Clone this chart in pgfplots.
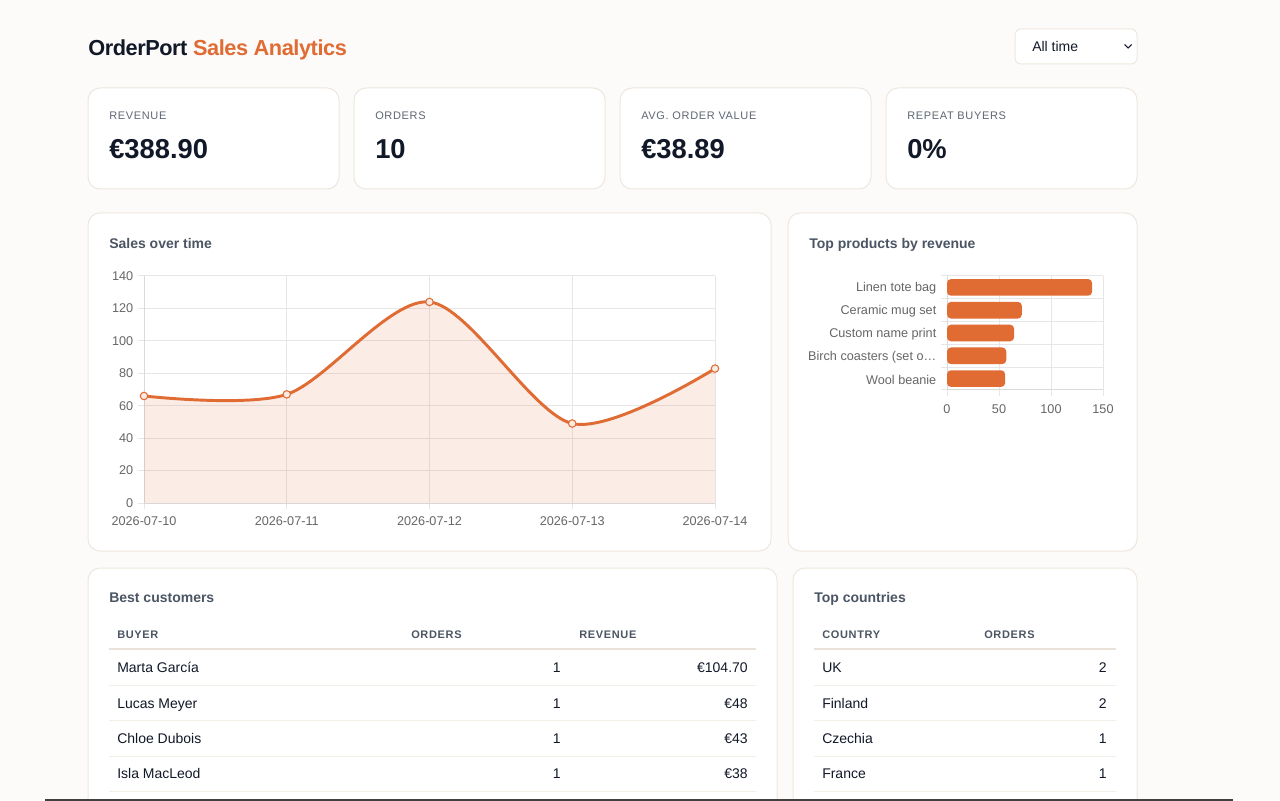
\documentclass[border=0pt]{standalone}
\usepackage{fontspec}
\setmainfont{Liberation Sans}
\newfontfamily\spaced[LetterSpace=6]{Liberation Sans}
\newfontfamily\tight[LetterSpace=-2]{Liberation Sans}
\usepackage{pgfplots}
\usepackage{pgfplotstable}
\pgfplotsset{compat=1.18}
\definecolor{bg}{HTML}{FCFBF9}
\definecolor{cardborder}{HTML}{EEE7DE}
\definecolor{ink}{HTML}{111827}
\definecolor{muted}{HTML}{4B5563}
\definecolor{lab}{HTML}{5F6673}
\definecolor{accent}{HTML}{E06B33}
\definecolor{accentfill}{HTML}{F9EBE3}
\definecolor{gridc}{HTML}{E6E6E6}
\definecolor{axisc}{HTML}{DADADA}
\definecolor{tickc}{HTML}{666666}
\definecolor{rowline}{HTML}{F3EEE8}
\definecolor{headline}{HTML}{EAE2D8}

\pgfplotstableread{
x y
0 66
1 67
2 124
3 49
4 82.9
}\salesdata

\pgfplotstableread{
y x
4 139.5
3 72
2 64.5
1 57
0 55.9
}\productdata

\begin{document}
\begin{tikzpicture}[x=0.75pt,y=0.75pt]
\path[use as bounding box] (0,0) rectangle (1280,800);
\begin{scope}
\clip (0,0) rectangle (1280,800);
\fill[bg] (0,0) rectangle (1280,800);

% Title
\node[anchor=base west, inner sep=0pt, font=\tight\fontsize{16.3}{18}\selectfont\bfseries] at (88,744) {\textcolor{ink}{OrderPort} \textcolor{accent}{Sales Analytics}};

% Dropdown
\draw[cardborder, fill=white, line width=0.75pt, rounded corners=4.5pt] (1015,736) rectangle (1137,771);
\node[anchor=base west, inner sep=0pt, font=\fontsize{10.5}{12}\selectfont, text=ink] at (1032,748.5) {All time};
\draw[ink, line width=0.8pt] (1124.5,755.5) -- (1128,752) -- (1131.5,755.5);

% KPI cards
\foreach \x/\lab/\val in {88/REVENUE/€388.90, 354/ORDERS/10, 620/AVG. ORDER VALUE/€38.89, 886/REPEAT BUYERS/0\%}{
  \draw[cardborder, fill=white, line width=0.75pt, rounded corners=9pt] (\x,611) rectangle ++(251,101);
  \node[anchor=base west, inner sep=0pt, font=\spaced\fontsize{8.25}{10}\selectfont, text=lab] at (\x+21,680.5) {\lab};
  \node[anchor=base west, inner sep=0pt, font=\fontsize{20.5}{22}\selectfont\bfseries, text=ink] at (\x+21,641) {\val};
}

% Chart cards
\draw[cardborder, fill=white, line width=0.75pt, rounded corners=9pt] (88,249) rectangle (771,587);
\draw[cardborder, fill=white, line width=0.75pt, rounded corners=9pt] (788,249) rectangle (1137,587);
\node[anchor=base west, inner sep=0pt, font=\fontsize{10.5}{12}\selectfont\bfseries, text=muted] at (109,551.5) {Sales over time};
\node[anchor=base west, inner sep=0pt, font=\fontsize{10.5}{12}\selectfont\bfseries, text=muted] at (809,551.5) {Top products by revenue};

% Bottom cards
\draw[cardborder, fill=white, line width=0.75pt, rounded corners=9pt] (88,-30) rectangle (777,232);
\draw[cardborder, fill=white, line width=0.75pt, rounded corners=9pt] (793,-30) rectangle (1137,232);
\node[anchor=base west, inner sep=0pt, font=\fontsize{10.5}{12}\selectfont\bfseries, text=muted] at (109,198) {Best customers};
\node[anchor=base west, inner sep=0pt, font=\fontsize{10.5}{12}\selectfont\bfseries, text=muted] at (814,198) {Top countries};

% Table headers
\begin{scope}[every node/.style={anchor=base west, inner sep=0pt, font=\spaced\fontsize{8.25}{10}\selectfont\bfseries, text=muted}]
\node at (117,162) {BUYER};
\node at (411,162) {ORDERS};
\node at (579,162) {REVENUE};
\node at (822,162) {COUNTRY};
\node at (984,162) {ORDERS};
\end{scope}
\draw[headline, line width=1pt] (109,151) -- (756,151);
\draw[headline, line width=1pt] (814,151) -- (1116,151);
\foreach \yy in {115,80,44,9}{
  \draw[rowline, line width=0.75pt] (109,\yy) -- (756,\yy);
  \draw[rowline, line width=0.75pt] (814,\yy) -- (1116,\yy);
}
\begin{scope}[every node/.style={inner sep=0pt, font=\fontsize{10.5}{12}\selectfont, text=ink}]
\foreach \yy/\name/\rev/\cty/\num in {128/Marta García/€104.70/UK/2, 92/Lucas Meyer/€48/Finland/2, 57/Chloe Dubois/€43/Czechia/1, 22/Isla MacLeod/€38/France/1}{
  \node[anchor=base west] at (117,\yy) {\name};
  \node[anchor=base east] at (561,\yy) {1};
  \node[anchor=base east] at (748,\yy) {\rev};
  \node[anchor=base west] at (822,\yy) {\cty};
  \node[anchor=base east] at (1107,\yy) {\num};
}
\end{scope}

% Line chart
\begin{axis}[
  at={(108pt,222.75pt)}, anchor=south west, scale only axis,
  width=428.25pt, height=170.25pt,
  xmin=0, xmax=4, ymin=0, ymax=140,
  xtick={0,1,2,3,4},
  xticklabels={2026-07-10,2026-07-11,2026-07-12,2026-07-13,2026-07-14},
  ytick={0,20,...,140},
  grid=major, grid style={gridc, line width=0.75pt},
  axis lines*=left, axis line style={axisc, line width=0.75pt},
  tick style={gridc, line width=0.75pt}, tick align=outside, major tick length=4.5pt,
  ticklabel style={font=\fontsize{9.5}{10}\selectfont, text=tickc},
  xticklabel style={yshift=-2.5pt},
  /pgf/number format/assume math mode=true,
  clip=false,
]
\addplot[draw=none, fill=accent, fill opacity=0.12, smooth] table[x=x,y=y] {\salesdata} \closedcycle;
\addplot[accent, line width=2.2pt, smooth, mark=*, mark size=2.8pt,
  mark options={fill=accentfill, draw=accent, line width=0.8pt}] table[x=x,y=y] {\salesdata};
\end{axis}

% Bar chart
\begin{axis}[
  at={(710.25pt,307.5pt)}, anchor=south west, scale only axis,
  width=117pt, height=85.5pt,
  xbar, bar width=12.5pt,
  xmin=0, xmax=150, ymin=-0.5, ymax=4.5,
  xtick={0,50,100,150},
  ytick={0,1,2,3,4},
  yticklabels={Wool beanie,Birch coasters (set o…,Custom name print,Ceramic mug set,Linen tote bag},
  minor ytick={-0.5,0.5,1.5,2.5,3.5,4.5},
  yminorgrids, xmajorgrids,
  grid style={gridc, line width=0.75pt},
  minor grid style={gridc, line width=0.75pt},
  axis lines*=left, axis line style={axisc, line width=0.75pt},
  tick style={gridc, line width=0.75pt}, tick align=outside,
  major tick length=4.5pt, minor tick length=4.5pt,
  every major y tick/.style={draw=none},
  ticklabel style={font=\fontsize{9.5}{10}\selectfont, text=tickc},
  xticklabel style={yshift=-3pt},
  yticklabel style={yshift=-0.75pt},
  /pgf/number format/assume math mode=true,
  clip=false,
]
\addplot[fill=accent, draw=none, rounded corners=3pt] table[x=x,y=y] {\productdata};
\end{axis}

% bottom screen edge
\draw[black!75, line width=1.5pt] (45,0.5) -- (1233,0.5);
\end{scope}
\end{tikzpicture}
\end{document}
